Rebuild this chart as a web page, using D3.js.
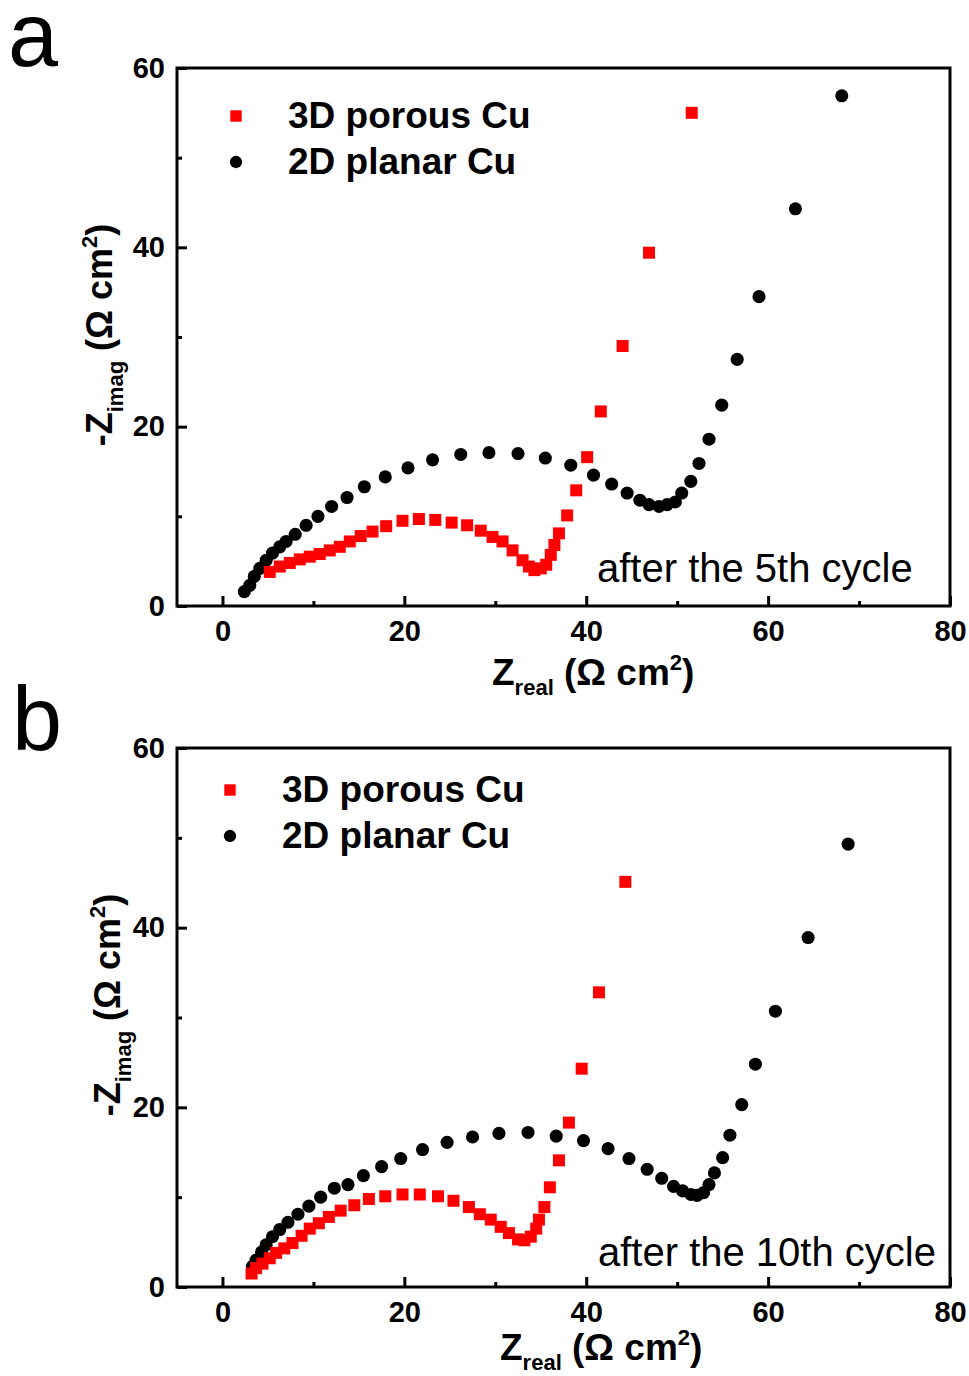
<!DOCTYPE html>
<html>
<head>
<meta charset="utf-8">
<script src="https://cdn.jsdelivr.net/npm/d3@7"></script>
<style>
  body { margin: 0; background: #fff; }
  svg { display: block; font-family: "Liberation Sans", Arial, sans-serif; }
</style>
</head>
<body>
<svg id="chart"></svg>
<script>
// Nyquist data: [Zreal, -Zimag] in ohm cm2
const porous5 = [
  [5.2, 3.8], [6.3, 4.4], [7.4, 4.8], [8.5, 5.2], [9.6, 5.5], [10.7, 5.8], [11.8, 6.2],
  [12.9, 6.6], [14.0, 7.2], [15.2, 7.8], [16.5, 8.3], [18.0, 8.9], [19.8, 9.5], [21.6, 9.7],
  [23.4, 9.6], [25.2, 9.3], [26.9, 9.0], [28.4, 8.4], [29.7, 7.7], [30.8, 7.2], [31.9, 6.2],
  [33.0, 5.1], [33.7, 4.4], [34.3, 4.0], [35.0, 4.2], [35.6, 4.6], [36.1, 5.7], [36.5, 6.8],
  [37.0, 8.1], [37.9, 10.1], [38.9, 12.9], [40.1, 16.6], [41.6, 21.7], [44.0, 29.0],
  [46.9, 39.4], [51.6, 55.0]
];
const planar5 = [
  [2.4, 1.6], [3.0, 2.3], [3.5, 3.3], [4.1, 4.2], [4.8, 5.1], [5.5, 5.9], [6.3, 6.6],
  [7.0, 7.2], [8.0, 8.0], [9.2, 9.0], [10.5, 10.0], [12.0, 11.1], [13.7, 12.1], [15.6, 13.3],
  [17.9, 14.4], [20.4, 15.4], [23.1, 16.3], [26.2, 16.9], [29.3, 17.1], [32.5, 17.0],
  [35.5, 16.5], [38.3, 15.7], [40.8, 14.6], [42.8, 13.6], [44.5, 12.6], [45.9, 11.8],
  [46.9, 11.3], [48.0, 11.1], [48.9, 11.3], [49.8, 11.6], [50.5, 12.6], [51.5, 13.9],
  [52.4, 15.9], [53.5, 18.6], [54.9, 22.4], [56.6, 27.5], [59.0, 34.5], [63.0, 44.3], [68.1, 56.9]
];
const porous10 = [
  [3.2, 1.5], [3.7, 2.1], [4.4, 2.6], [5.2, 3.2], [5.9, 3.8], [6.8, 4.3], [7.7, 4.9],
  [8.7, 5.7], [9.6, 6.5], [10.6, 7.1], [11.7, 7.8], [13.0, 8.5], [14.5, 9.1], [16.1, 9.8],
  [17.9, 10.1], [19.8, 10.3], [21.7, 10.3], [23.7, 10.1], [25.4, 9.6], [27.1, 8.9],
  [28.3, 8.1], [29.5, 7.5], [30.6, 6.7], [31.5, 6.0], [32.5, 5.3], [33.2, 5.2], [33.9, 5.6],
  [34.5, 6.5], [34.8, 7.5], [35.4, 8.9], [36.0, 11.1], [37.0, 14.1], [38.1, 18.3],
  [39.5, 24.3], [41.4, 32.8], [44.3, 45.1]
];
const planar10 = [
  [3.3, 2.3], [3.7, 3.0], [4.3, 3.9], [4.8, 4.7], [5.5, 5.6], [6.3, 6.4], [7.2, 7.2],
  [8.3, 8.1], [9.5, 9.0], [10.8, 10.0], [12.3, 11.0], [13.8, 11.4], [15.5, 12.4], [17.5, 13.4],
  [19.6, 14.3], [22.0, 15.3], [24.7, 16.1], [27.5, 16.7], [30.4, 17.1], [33.6, 17.2],
  [36.7, 16.8], [39.7, 16.3], [42.4, 15.4], [44.7, 14.3], [46.7, 13.1], [48.3, 12.1],
  [49.6, 11.2], [50.6, 10.7], [51.5, 10.3], [52.2, 10.2], [52.9, 10.5], [53.5, 11.4],
  [54.1, 12.7], [55.0, 14.4], [55.8, 16.9], [57.1, 20.3], [58.6, 24.8], [60.8, 30.7],
  [64.4, 38.9], [68.8, 49.3]
];

const seriesNames = ["3D porous Cu", "2D planar Cu"];
const cycleNotes = ["after the 5th cycle", "after the 10th cycle"];
const panelLetters = ["a", "b"];
const xMajor = [0, 20, 40, 60, 80];
const xMinor = [10, 30, 50, 70];
const yMajor = [0, 20, 40, 60];
const yMinor = [10, 30, 50];

const width = 969, height = 1376;
const svg = d3.select("#chart").attr("width", width).attr("height", height);

const x = d3.scaleLinear().domain([-5, 80]).range([177, 950]);

const square = d3.symbol().type(d3.symbolSquare).size(144);
const circle = d3.symbol().type(d3.symbolCircle).size(135);

function drawPanel(p) {
  const y = d3.scaleLinear().domain([0, 60]).range([p.bottom, p.top]);
  const g = svg.append("g");

  // panel letter
  g.append("text")
    .attr("x", p.letterX).attr("y", p.letterY)
    .attr("font-size", 90)
    .text(p.letter);

  // axes, ticks pointing inward
  g.append("g").attr("transform", `translate(0,${p.bottom})`)
    .call(d3.axisBottom(x).tickValues(xMajor).tickSizeInner(-10).tickSizeOuter(0).tickPadding(14));
  g.append("g").attr("transform", `translate(0,${p.bottom})`)
    .call(d3.axisBottom(x).tickValues(xMinor).tickSizeInner(-5).tickSizeOuter(0).tickFormat(""));
  g.append("g").attr("transform", `translate(177,0)`)
    .call(d3.axisLeft(y).tickValues(yMajor).tickSizeInner(-10).tickSizeOuter(0).tickPadding(12));
  g.append("g").attr("transform", `translate(177,0)`)
    .call(d3.axisLeft(y).tickValues(yMinor).tickSizeInner(-5).tickSizeOuter(0).tickFormat(""));

  g.selectAll(".domain").remove();
  g.selectAll(".tick line").attr("stroke", "#000").attr("stroke-width", 3);
  g.selectAll(".tick text")
    .attr("font-family", "'Liberation Sans', Arial, sans-serif")
    .attr("font-size", 29).attr("font-weight", "bold").attr("fill", "#000");

  // frame
  g.append("rect")
    .attr("x", 177).attr("y", p.top)
    .attr("width", 950 - 177).attr("height", p.bottom - p.top)
    .attr("fill", "none").attr("stroke", "#000").attr("stroke-width", 3);

  // data
  g.selectAll(".planar").data(p.planar).enter().append("path")
    .attr("class", "planar")
    .attr("transform", d => `translate(${x(d[0])},${y(d[1])})`)
    .attr("d", circle).attr("fill", "#000");
  g.selectAll(".porous").data(p.porous).enter().append("path")
    .attr("class", "porous")
    .attr("transform", d => `translate(${x(d[0])},${y(d[1])})`)
    .attr("d", square).attr("fill", "#ff0000");

  // legend
  const leg = g.append("g").attr("transform", `translate(${p.legX},${p.legY})`);
  leg.append("path").attr("d", d3.symbol().type(d3.symbolSquare).size(130))
    .attr("fill", "#ff0000");
  leg.append("path").attr("transform", "translate(0,46)")
    .attr("d", d3.symbol().type(d3.symbolCircle).size(120)).attr("fill", "#000");
  leg.selectAll(".lt").data(seriesNames).enter().append("text")
    .attr("x", 52).attr("y", (d, i) => i * 46 + 12)
    .attr("font-size", 37).attr("font-weight", "bold")
    .text(d => d);

  // cycle note
  g.append("text")
    .attr("x", p.noteX).attr("y", p.noteY)
    .attr("font-size", 40)
    .text(p.note);

  // x title
  const xt = g.append("text")
    .attr("x", p.xtX).attr("y", p.xtY)
    .attr("font-size", 37).attr("font-weight", "bold");
  xt.append("tspan").text("Z");
  xt.append("tspan").attr("dy", 10).attr("font-size", 22).text("real");
  xt.append("tspan").attr("dy", -10).text(" (Ω cm");
  xt.append("tspan").attr("dy", -15).attr("font-size", 22).text("2");
  xt.append("tspan").attr("dy", 15).text(")");

  // y title
  const yt = g.append("text")
    .attr("transform", `translate(${p.ytX},${p.ytY}) rotate(-90)`)
    .attr("text-anchor", "middle")
    .attr("font-size", 36).attr("font-weight", "bold");
  yt.append("tspan").text("-Z");
  yt.append("tspan").attr("dy", 11).attr("font-size", 22).text("imag");
  yt.append("tspan").attr("dy", -11).text(" (Ω cm");
  yt.append("tspan").attr("dy", -15).attr("font-size", 22).text("2");
  yt.append("tspan").attr("dy", 15).text(")");
}

drawPanel({
  top: 68, bottom: 606, letter: panelLetters[0], letterX: 8, letterY: 66,
  porous: porous5, planar: planar5,
  legX: 236, legY: 116, note: cycleNotes[0], noteX: 597, noteY: 582,
  xtX: 492, xtY: 685, ytX: 112, ytY: 335
});
drawPanel({
  top: 748, bottom: 1287, letter: panelLetters[1], letterX: 12, letterY: 750,
  porous: porous10, planar: planar10,
  legX: 230, legY: 790, note: cycleNotes[1], noteX: 598, noteY: 1266,
  xtX: 500, xtY: 1360, ytX: 120, ytY: 1005
});
</script>
</body>
</html>
